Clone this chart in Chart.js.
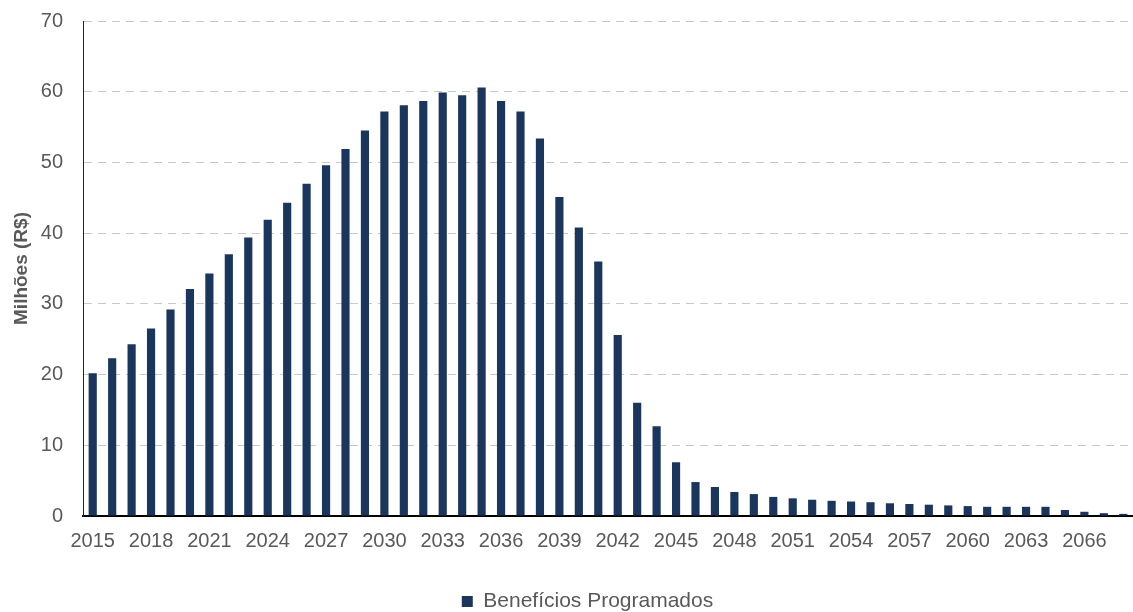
<!DOCTYPE html>
<html>
<head>
<meta charset="utf-8">
<script src="https://cdn.jsdelivr.net/npm/chart.js@4/dist/chart.umd.min.js"></script>
<style>
html,body{margin:0;padding:0;background:#fff;}
#wrap{width:1133px;height:612px;position:relative;}
</style>
</head>
<body>
<div id="wrap"><canvas id="c" width="1133" height="612"></canvas></div>
<script>
const years = [];
for (let y = 2015; y <= 2068; y++) years.push(String(y));
const beneficiosProgramados = [
  20.2, 22.3, 24.3, 26.5, 29.2, 32.1, 34.3, 37.0, 39.4, 41.9,
  44.3, 47.0, 49.6, 51.9, 54.5, 57.2, 58.1, 58.7, 59.9, 59.5,
  60.6, 58.7, 57.2, 53.4, 45.1, 40.8, 36.0, 25.6, 16.0, 12.7,
  7.6, 4.8, 4.1, 3.4, 3.1, 2.7, 2.5, 2.3, 2.15, 2.05,
  1.95, 1.8, 1.7, 1.6, 1.5, 1.4, 1.3, 1.3, 1.3, 1.3,
  0.85, 0.6, 0.4, 0.3
];
const yTicks = [0, 10, 20, 30, 40, 50, 60, 70];
const seriesName = 'Benefícios Programados';
const yTitle = 'Milhões (R$)';

const txt = '#595959';
const bar = '#1b365d';
const font = "'Liberation Sans', Arial, sans-serif";

const legendShift = {
  id: 'legendShift',
  afterLayout(chart) {
    const lg = chart.legend;
    if (!lg) return;
    lg.left += 21; lg.right += 21;
    lg.top += 10; lg.bottom += 10;
  }
};

new Chart(document.getElementById('c'), {
  type: 'bar',
  data: {
    labels: years,
    datasets: [{
      label: seriesName,
      data: beneficiosProgramados,
      backgroundColor: bar,
      borderWidth: 0,
      barPercentage: 0.42,
      categoryPercentage: 1.0
    }]
  },
  plugins: [legendShift],
  options: {
    responsive: false,
    animation: false,
    layout: { padding: { top: 21, right: 0, left: 0, bottom: 0 } },
    plugins: {
      tooltip: { enabled: false },
      legend: {
        position: 'bottom',
        labels: {
          color: txt,
          font: { family: font, size: 21 },
          boxWidth: 11,
          boxHeight: 11,
          padding: 0
        }
      }
    },
    scales: {
      x: {
        grid: { display: false, drawTicks: false },
        border: { display: true, color: '#000', width: 2 },
        ticks: {
          color: txt,
          font: { family: font, size: 20 },
          autoSkip: false,
          maxRotation: 0,
          minRotation: 0,
          padding: 13,
          callback: function(v, i) { return i % 3 === 0 ? this.getLabelForValue(v) : ''; }
        },
        afterFit: function(s) { s.height = 65; s.paddingLeft = 0; s.paddingRight = 0; }
      },
      y: {
        min: 0, max: 70,
        afterBuildTicks: function(s) { s.ticks = yTicks.map(v => ({ value: v })); },
        grid: {
          drawTicks: false,
          color: (ctx) => (ctx.tick && ctx.tick.value === 0) ? 'rgba(0,0,0,0)' : '#c8c8c8',
          lineWidth: 1
        },
        border: { display: true, color: '#222', width: 1, dash: [8, 6] },
        ticks: {
          color: txt,
          font: { family: font, size: 20 },
          padding: 20
        },
        title: {
          display: true,
          text: yTitle,
          color: txt,
          font: { family: font, size: 19, weight: 'bold' },
          padding: { top: 10, bottom: 4 }
        },
        afterFit: function(s) { s.width = 83; s.paddingTop = 0; s.paddingBottom = 0; }
      }
    }
  }
});
</script>
</body>
</html>
